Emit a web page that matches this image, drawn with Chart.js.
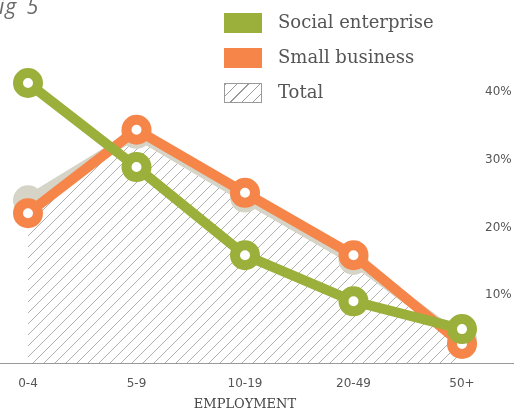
<!DOCTYPE html>
<html lang="en">

<head>
    <meta charset="UTF-8">
    <script src="https://cdn.jsdelivr.net/npm/chart.js"></script>
    <title>Fig 5</title>
    <style>
        body { margin: 0; background: #fff; }
        .quadro { position: relative; width: 514px; height: 418px; overflow: hidden; }
        .fig { position: absolute; left: -12px; top: -8px; font: italic 21px "Open Sans", sans-serif; letter-spacing: 1px; word-spacing: 3px; color: #6a6a6a; }
        .legenda { position: absolute; left: 224px; top: 13px; }
        .item { position: relative; height: 35px; }
        .caixa { position: absolute; left: 0; top: 0; width: 38px; height: 20px; box-sizing: border-box; }
        .txt { position: absolute; left: 54px; top: -2px; font: 18px "DejaVu Serif", serif; color: #555; white-space: nowrap; }
        .hachura { border: 1px solid #9a9a9a;
            background: repeating-linear-gradient(-45deg, #fff 0 5px, #9a9a9a 5px 6px, #fff 6px 8px); }
    </style>
</head>

<body>
    <div class="quadro">
        <canvas id="grafico" width="514" height="418"></canvas>
        <div class="fig">Fig 5</div>
        <div class="legenda">
            <div class="item"><span class="caixa" style="background:#9baf3b"></span><span class="txt">Social enterprise</span></div>
            <div class="item"><span class="caixa" style="background:#f58549"></span><span class="txt">Small business</span></div>
            <div class="item"><span class="caixa hachura"></span><span class="txt">Total</span></div>
        </div>
    </div>

    <script>
        const categorias = ['0-4', '5-9', '10-19', '20-49', '50+'];
        const socialEnterprise = [41.3, 28.9, 15.9, 9.1, 5.0];
        const smallBusiness = [22.1, 34.4, 25.1, 15.9, 2.8];
        const total = [24.0, 33.8, 24.4, 15.2, 3.4];
        const ticksY = [10, 20, 30, 40];

        const verde = '#9baf3b';
        const laranja = '#f58549';
        const cinza = '#d6d4c7';

        // hachura diagonal para a area do total
        function criarHachura(cor, passo) {
            const c = document.createElement('canvas');
            c.width = passo;
            c.height = passo;
            const g = c.getContext('2d');
            g.strokeStyle = cor;
            g.lineWidth = 1;
            g.beginPath();
            g.moveTo(0, passo); g.lineTo(passo, 0);
            g.moveTo(-1, 1); g.lineTo(1, -1);
            g.moveTo(passo - 1, passo + 1); g.lineTo(passo + 1, passo - 1);
            g.stroke();
            return g.createPattern(c, 'repeat');
        }

        // linha de base que atravessa toda a largura
        const linhaBase = {
            id: 'linhaBase',
            beforeDatasetsDraw(chart) {
                const ctx = chart.ctx;
                const y = Math.round(chart.scales.y.getPixelForValue(0)) + 0.5;
                ctx.save();
                ctx.strokeStyle = '#999';
                ctx.lineWidth = 1;
                ctx.beginPath();
                ctx.moveTo(0, y);
                ctx.lineTo(chart.width, y);
                ctx.stroke();
                ctx.restore();
            }
        };

        function serie(label, dados, cor, miolo) {
            return {
                label: label,
                data: dados,
                borderColor: cor,
                borderWidth: 10,
                pointRadius: 10,
                pointHoverRadius: 10,
                pointBorderWidth: 10,
                pointBorderColor: cor,
                pointBackgroundColor: miolo,
                tension: 0,
                clip: false,
                fill: false
            };
        }

        const dadosTotal = serie('Total', total, cinza, cinza);
        dadosTotal.fill = 'origin';
        dadosTotal.backgroundColor = criarHachura('#b0b0b0', 11);

        const config = {
            type: 'line',
            data: {
                labels: categorias,
                datasets: [
                    serie('Social enterprise', socialEnterprise, verde, '#fff'),
                    serie('Small business', smallBusiness, laranja, '#fff'),
                    dadosTotal
                ]
            },
            plugins: [linhaBase],
            options: {
                responsive: false,
                animation: false,
                devicePixelRatio: 1,
                events: [],
                layout: { padding: { left: 28, top: 24, right: 0, bottom: 0 } },
                plugins: {
                    legend: { display: false },
                    tooltip: { enabled: false }
                },
                scales: {
                    x: {
                        offset: false,
                        grid: { display: false },
                        border: { display: false },
                        ticks: {
                            padding: 6,
                            color: '#555',
                            font: { family: 'DejaVu Sans', size: 12 },
                            maxRotation: 0
                        },
                        title: {
                            display: true,
                            text: 'EMPLOYMENT',
                            color: '#444',
                            font: { family: 'DejaVu Serif', size: 13 },
                            padding: { top: 6, bottom: 6 }
                        },
                        afterFit: function (s) { s.height = 55; }
                    },
                    y: {
                        position: 'right',
                        min: 0,
                        max: 50,
                        grid: { display: false },
                        border: { display: false },
                        afterBuildTicks: function (s) {
                            s.ticks = ticksY.map(v => ({ value: v }));
                        },
                        ticks: {
                            padding: 15,
                            color: '#555',
                            font: { family: 'DejaVu Sans', size: 12 },
                            callback: v => v + '%'
                        },
                        afterFit: function (s) { s.width = 52; }
                    }
                }
            }
        };

        var grafico = new Chart(document.getElementById('grafico'), config);
    </script>
</body>

</html>
